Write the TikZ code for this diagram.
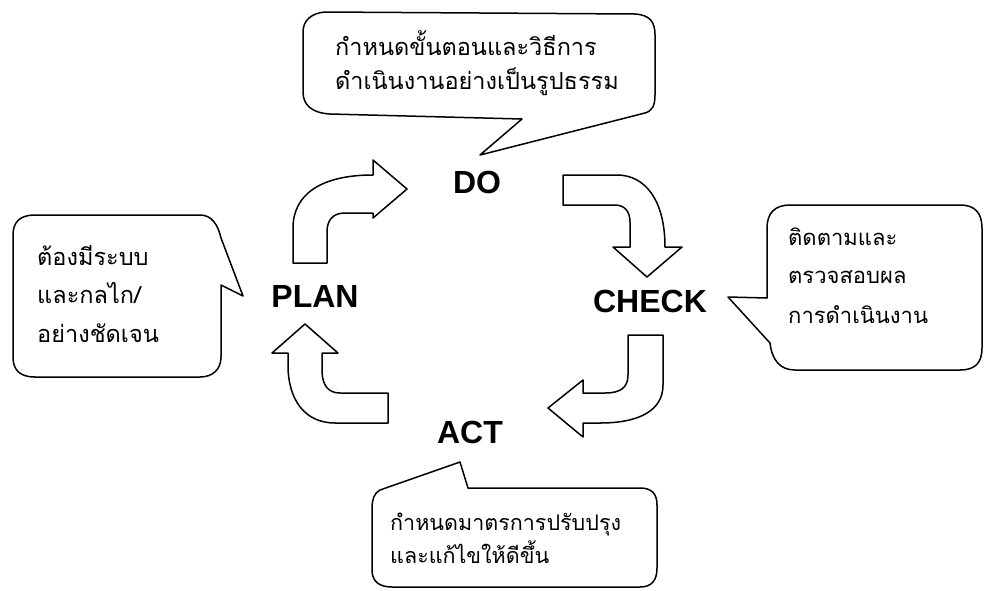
\documentclass[tikz,border=0pt]{standalone}
\usepackage{fontspec}
\setmainfont{Liberation Sans}
\newfontfamily\thaifont[Script=Thai]{Loma}
\begin{document}
\begin{tikzpicture}[x=1pt,y=-1pt,
  outline/.style={draw=black, line width=1.5pt, line join=round, fill=white},
  lbl/.style={font=\bfseries\fontsize{32}{36}\selectfont, inner sep=0pt},
  thai/.style={font=\thaifont\fontsize{23.5}{28}\selectfont, inner sep=0pt, anchor=base west},
  thaiR/.style={thai, font=\thaifont\fontsize{22}{26}\selectfont},
  thaiB/.style={thai, font=\thaifont\fontsize{21.5}{26}\selectfont}]
\useasboundingbox[fill=white] (0,0) rectangle (986,590);

% callouts
\draw[outline] (325,12) -- (635,14) .. controls (650,15) and (655,22) .. (655,35)
  -- (655,95) .. controls (655,106) and (652,111) .. (645,113) -- (480,155) -- (522,119)
  -- (330,114) .. controls (312,113) and (303,105) .. (303,92) -- (303,32)
  .. controls (303,20) and (312,13) .. (325,12) -- cycle;
\draw[outline] (35,215) -- (200,215) .. controls (212,215) and (218,225) .. (221,238)
  -- (243,296) -- (221,285) -- (221,357) .. controls (221,370) and (212,377) .. (200,377)
  -- (35,377) .. controls (20,377) and (13,370) .. (13,357) -- (13,235)
  .. controls (13,222) and (20,215) .. (35,215) -- cycle;
\draw[outline] (790,205) -- (960,205) .. controls (975,205) and (982,213) .. (982,228)
  -- (982,348) .. controls (982,363) and (975,370) .. (960,370) -- (795,370)
  .. controls (780,370) and (772,360) .. (770,343) -- (728,297) -- (767,298) -- (767,228)
  .. controls (767,213) and (775,205) .. (790,205) -- cycle;
\draw[outline] (460,462) -- (380,490) .. controls (374,493) and (372,500) .. (372,508)
  -- (372,570) .. controls (372,582) and (380,587) .. (392,587) -- (640,587)
  .. controls (652,587) and (657,580) .. (657,568) -- (657,505)
  .. controls (657,494) and (652,488) .. (640,488) -- (468,488) -- cycle;

% arrows
\draw[outline] (293,263) -- (293,228) .. controls (293,195) and (320,175) .. (373,175)
  -- (373,160) -- (407,189) -- (373,218) -- (373,213) -- (345,213)
  .. controls (333,213) and (327,220) .. (327,232) -- (327,263) -- cycle;
\draw[outline] (563,175) -- (617,175) .. controls (645,175) and (665,200) .. (665,247)
  -- (682,247) -- (647,277) -- (613,247) -- (630,247) -- (630,222)
  .. controls (630,212) and (625,205) .. (615,205) -- (563,205) -- cycle;
\draw[outline] (628,335) -- (663,335) -- (663,385) .. controls (663,410) and (640,423) .. (600,423)
  -- (583,423) -- (583,437) -- (548,408) -- (583,380) -- (583,393) -- (605,393)
  .. controls (620,393) and (628,388) .. (628,375) -- cycle;
\draw[outline] (388,393) -- (340,393) .. controls (328,393) and (322,385) .. (322,370)
  -- (322,353) -- (338,353) -- (305,324) -- (272,353) -- (288,353) -- (288,365)
  .. controls (288,400) and (305,423) .. (335,423) -- (388,423) -- cycle;

% labels
\node[lbl] (do) at (477,182) {DO};
\node[lbl] (plan) at (315,296) {PLAN};
\node[lbl] (check) at (650,301) {CHECK};
\node[lbl] (act) at (470,432) {ACT};

% thai texts
\node[thai] (t1a) at (335,55) {กำหนดขั้นตอนและวิธีการ};
\node[thai] (t1b) at (335,89) {ดำเนินงานอย่างเป็นรูปธรรม};
\node[thai] (t2a) at (37,265) {ต้องมีระบบ};
\node[thai] (t2b) at (37,303) {และกลไก/};
\node[thai] (t2c) at (37,342) {อย่างชัดเจน};
\node[thaiR] (t3a) at (788,245) {ติดตามและ};
\node[thaiR] (t3b) at (788,283) {ตรวจสอบผล};
\node[thaiR] (t3c) at (788,323) {การดำเนินงาน};
\node[thaiB] (t4a) at (390,530) {กำหนดมาตรการปรับปรุง};
\node[thaiB] (t4b) at (390,563) {และแก้ไขให้ดีขึ้น};
\end{tikzpicture}
\end{document}
